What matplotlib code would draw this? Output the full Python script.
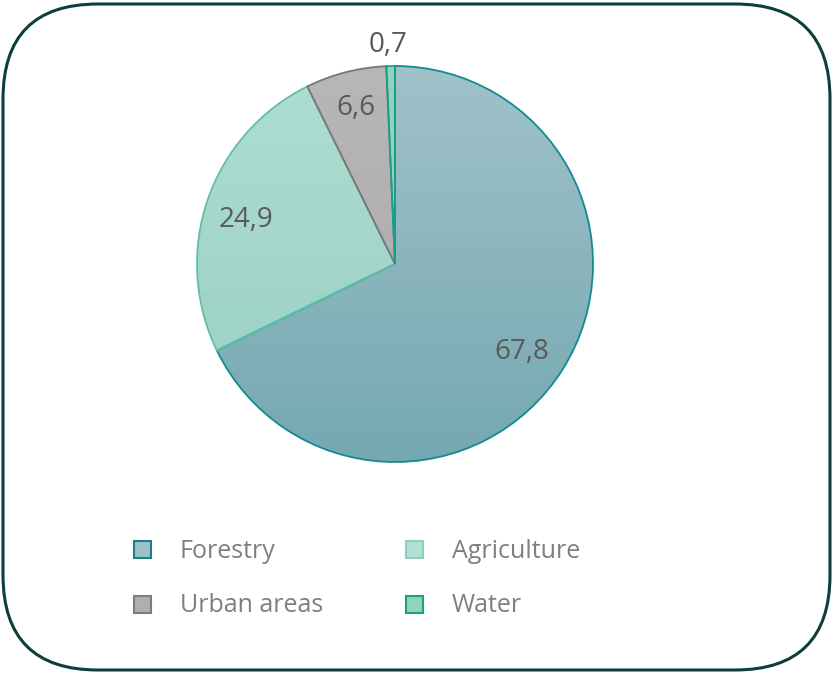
import numpy as np
import matplotlib
matplotlib.use("Agg")
import matplotlib.pyplot as plt
from matplotlib.patches import FancyBboxPatch, Rectangle
from matplotlib.colors import LinearSegmentedColormap

categories = ["Forestry", "Agriculture", "Urban areas", "Water"]
values = [67.8, 24.9, 6.6, 0.7]
labels = ["67,8", "24,9", "6,6", "0,7"]

top_colors = ["#a0c2c9", "#b0ddd2", "#b8b6b6", "#93d3be"]
bot_colors = ["#75a8b1", "#97cfc0", "#a9a7a7", "#93d3be"]
edge_colors = ["#138a92", "#5fbfab", "#7a7676", "#17a085"]
legend_face = ["#9ec0c6", "#b5dfd4", "#b0aeae", "#93d2bc"]
legend_edge = ["#1a7f8a", "#8ed0bf", "#7f7b7b", "#17a383"]

W, H = 833, 674
fig = plt.figure(figsize=(W / 100, H / 100), dpi=100)
ax = fig.add_axes([0, 0, 1, 1])

cx, cy, r = 395, H - 264, 198
wedges, _ = ax.pie(values, startangle=90, counterclock=False, center=(cx, cy),
                   radius=r, frame=True,
                   wedgeprops=dict(linewidth=1.3), colors=top_colors)
for w, tc, bc, ec in zip(wedges, top_colors, bot_colors, edge_colors):
    w.set_edgecolor(ec)
    cmap = LinearSegmentedColormap.from_list("g", [bc, tc])
    grad = np.linspace(0, 1, 256).reshape(-1, 1)
    im = ax.imshow(grad, cmap=cmap, origin="lower", aspect="auto",
                   extent=(cx - r, cx + r, cy - r, cy + r), zorder=0.5)
    im.set_clip_path(w)
    w.set_facecolor("none")
    w.set_zorder(1)

# data labels
label_pos = [(522, 352), (246, 220), (356, 108), (388, 45)]
for lab, (x, y) in zip(labels, label_pos):
    ax.text(x, H - y, lab, fontsize=20, color="#595959", family="Open Sans",
            ha="center", va="center", zorder=3)

# legend
leg_pos = [(143, 549), (415, 549), (143, 604), (415, 604)]
for name, (x, y), fc, ec in zip(categories, leg_pos, legend_face, legend_edge):
    ax.add_patch(Rectangle((x - 8.5, H - y - 8.5), 17, 17, facecolor=fc,
                           edgecolor=ec, linewidth=1.5, zorder=3))
    ax.text(x + 37, H - y - 2, name, fontsize=18, color="#7f7f7f",
            family="Open Sans", ha="left", va="center", zorder=3)

# rounded border
ax.add_patch(FancyBboxPatch((3, 4), W - 6, H - 8,
                            boxstyle="round,pad=0,rounding_size=95",
                            facecolor="none", edgecolor="#0d3d3d",
                            linewidth=2.2, zorder=4))

ax.set_xlim(0, W)
ax.set_ylim(0, H)
ax.set_aspect("auto")
ax.axis("off")
fig.savefig("out.png", dpi=100)
